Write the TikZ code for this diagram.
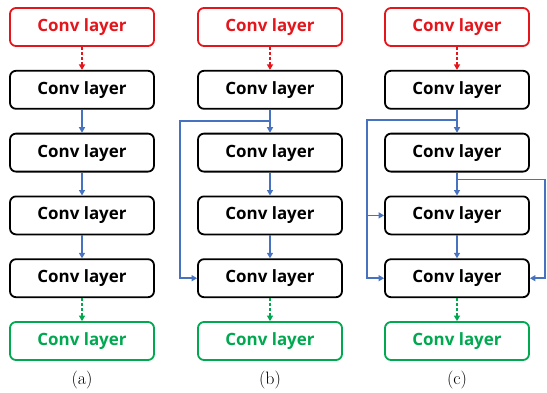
\documentclass[tikz,border=0pt]{standalone}
\usepackage{fontspec}
\setsansfont{Open Sans}[BoldFont={Open Sans Bold}]
\usetikzlibrary{positioning, calc, arrows.meta}

\definecolor{convred}{RGB}{228,22,28}
\definecolor{convgreen}{RGB}{0,168,80}
\definecolor{skipblue}{RGB}{70,114,192}

\begin{document}
\begin{tikzpicture}[
		x=1bp, y=-1bp,
		node distance=23bp,
		% Style for the layer boxes
		layer/.style={
			draw, line width=1.8bp, rounded corners=6bp,
			minimum width=144bp, minimum height=38bp,
			font=\sffamily\bfseries\fontsize{17}{20}\selectfont, inner sep=0pt
		},
		in layer/.style={layer, draw=convred, text=convred},
		out layer/.style={layer, draw=convgreen, text=convgreen},
		% Connector styles
		flow/.style={draw=skipblue, line width=1.6bp, -{Triangle[length=5.5bp, width=6bp]}},
		io flow/.style={line width=1.6bp, dash pattern=on 3bp off 2bp, -{Triangle[length=5.5bp, width=6bp]}},
		% Caption under each column
		caption/.style={font=\fontsize{18}{20}\selectfont}
	]
	\useasboundingbox (0,0) rectangle (547,392);
	
	% ==============================================================================
	% Columns: plain stack, one skip, dense skips
	% ==============================================================================
	\foreach \col/\x in {a/82, b/270, c/457} {
		\node[in layer] (\col0) at (\x,27) {Conv layer};
		\node[layer, below=of \col0] (\col1) {Conv layer};
		\node[layer, below=of \col1] (\col2) {Conv layer};
		\node[layer, below=of \col2] (\col3) {Conv layer};
		\node[layer, below=of \col3] (\col4) {Conv layer};
		\node[out layer, below=of \col4] (\col5) {Conv layer};
		\node[caption] (\col cap) at (\x,380) {(\col)};
		
		\draw[io flow, convred] (\col0) -- (\col1);
		\draw[flow] (\col1) -- (\col2);
		\draw[flow] (\col2) -- (\col3);
		\draw[flow] (\col3) -- (\col4);
		\draw[io flow, convgreen] (\col4) -- (\col5);
	}
	
	% ==============================================================================
	% Skip connections
	% ==============================================================================
	% (b): one long skip on the left
	\coordinate (b12) at ($(b1.south)!0.5!(b2.north)$);
	\draw[flow] (b12) -| ($(b4.west)+(-17,0)$) -- (b4.west);
	
	% (c): left skip feeds two layers, right skip feeds the last
	\coordinate (c12) at ($(c1.south)!0.45!(c2.north)$);
	\coordinate (c23) at ($(c2.south)!0.3!(c3.north)$);
	\coordinate (c3in) at ($(c3.west)+(-17,0)$);
	\draw[flow] (c12) -| ($(c4.west)+(-17,0)$) -- (c4.west);
	\draw[flow] (c3in) -- (c3.west);
	\draw[flow] (c23) -| ($(c4.east)+(15,0)$) -- (c4.east);
\end{tikzpicture}
\end{document}
